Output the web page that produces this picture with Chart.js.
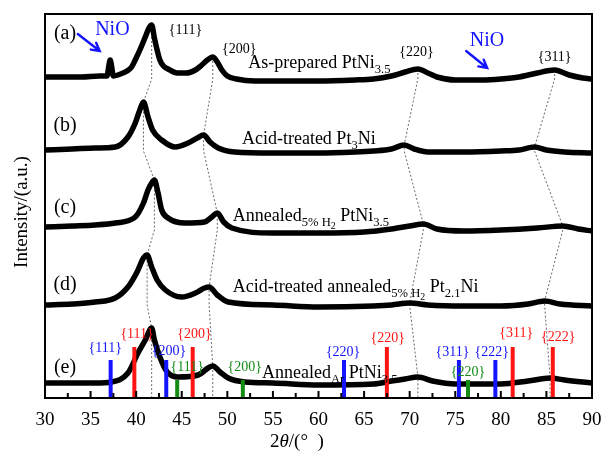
<!DOCTYPE html>
<html>
<head>
<meta charset="utf-8">
<script src="https://cdn.jsdelivr.net/npm/chart.js@4.4.1/dist/chart.umd.min.js"></script>
<style>
  html, body { margin: 0; padding: 0; background: #fff; }
</style>
</head>
<body>
<canvas id="xrd" width="606" height="452"></canvas>
<script>
// XRD patterns, stacked with a vertical offset: [2θ (deg), intensity (a.u.)]
const patternA = [[30,321],[32,321],[34,321],[36,322],[36.8,322],[37.0,332],[37.15,338],[37.3,332],[37.5,322],
  [38,323],[39,327],[39.5,331],[40,340],[40.5,350],[41.0,361],[41.4,370],[41.7,373],[42.0,360],[42.3,348],
  [42.6,338],[43.0,332],[43.5,329],[44.5,325],[45.5,325],[46.5,328],[47.2,333],[47.8,338],[48.4,341],
  [48.9,336],[49.4,328],[50.0,322],[51,319],[53,317],[56,317],[60,317],[64,318],[66,319],[68,322],
  [69.5,326],[70.9,329],[72,325],[73,321],[75,318],[78,318],[80,319],[82,321],[84,325],[85.9,328],
  [87.5,323],[89,320],[90,319]];
const patternB = [[30,248],[33,249],[35.5,250],[37.7,251],[39.1,261],[39.9,275],[40.4,288],[40.8,296],
  [41.3,281],[41.8,268],[42.8,258],[44.3,251],[45.7,255],[46.7,260],[47.4,263],[48.1,256],[49.0,250],
  [50.8,246],[55,245],[60,245],[64,246],[66,247],[68,249],[69.4,253],[70.5,249],[72,246],[76,246],
  [80,247],[82,248],[83.7,251],[85,248],[87,246],[90,245]];
const patternC = [[30,171],[33,172],[35.5,173],[37.7,175],[39.9,181],[40.8,195],[41.3,208],[41.7,215],
  [42.0,218],[42.4,205],[42.8,188],[43.5,180],[45.4,175],[47.5,176],[48.3,181],[48.9,185],[49.6,176],
  [50.5,170],[55,165],[60,165],[65,166],[68,169],[70,172],[71.5,174],[73,169],[76,167],[80,168],
  [84,170],[86.8,172],[88.5,169],[90,167]];
const patternD = [[30,93],[33,94],[35.5,96],[37.7,100],[39.1,111],[40.1,126],[40.8,140],[41.2,143],
  [41.7,131],[42.3,118],[43.2,108],[45.0,101],[46.5,105],[47.5,110],[48.0,111],[48.9,103],[50.1,96],
  [55,93],[60,91],[66,92],[68,93],[70,95],[72,93],[76,92],[80,92],[83,94],[84.8,97],[86.5,94],[90,92]];
const patternE = [[30,15],[33,15],[35.5,15],[37.3,16],[39.1,25],[40.2,45],[41.0,58],[41.7,70],[42.0,58],
  [42.6,41],[43.4,26],[44.6,21],[46.8,23],[47.9,30],[48.4,32],[49.2,26],[50.1,20],[51.9,16],[55,15],
  [60,13],[66,14],[68,17],[69.5,19],[70.9,21],[72.5,17],[75,14],[80,14],[83,17],[85.4,20],[87,18],[90,15]];

const patterns = [patternA, patternB, patternC, patternD, patternE];

// Peak positions of each pattern (a)…(e), used for the dashed guide lines
const peak111 = [41.7, 40.8, 42.0, 41.2, 41.7];
const peak200 = [48.4, 47.4, 48.9, 48.0, 48.4];
const peak220 = [70.9, 69.4, 71.5, 70.0, 70.9];
const peak311 = [85.9, 83.7, 86.8, 84.8, 85.4];
// level where each guide meets the pattern's baseline
const guideFoot = [319, 247, 168, 93, 0];

// Standard reference lines
const niOLines = [37.2, 43.3, 62.8, 75.4, 79.4];
const niOHeight = 38;
const niOHkl = ['{111}', '{200}', '{220}', '{311}', '{222}'];
const ptLines = [39.8, 46.2, 67.5, 81.3, 85.7];
const ptHeight = 51;
const ptHkl = ['{111}', '{200}', '{220}', '{311}', '{222}'];
const niLines = [44.5, 51.7, 76.4];
const niHeight = 18;
const niHkl = ['{111}', '{200}', '{220}'];

const xTicks = [30, 35, 40, 45, 50, 55, 60, 65, 70, 75, 80, 85, 90];

const FONT = '"Liberation Serif", "Times New Roman", serif';
const BLUE = 'rgb(20,20,255)';
const RED = 'rgb(255,20,20)';
const GREEN = 'rgb(20,140,20)';

const toXY = pts => pts.map(([x, y]) => ({ x, y }));

function guidePath(pos) {
  const pts = [];
  pos.forEach((p, i) => {
    const top = patterns[i].find(q => q[0] === p)[1];
    pts.push({ x: p, y: top });
    pts.push({ x: p, y: guideFoot[i] });
  });
  return pts;
}

const datasets = [];

// reference sticks (drawn on top)
[[niOLines, niOHeight, BLUE], [ptLines, ptHeight, RED], [niLines, niHeight, GREEN]].forEach(([xs, h, col]) => {
  xs.forEach(v => datasets.push({
    type: 'line', data: [{ x: v, y: 0 }, { x: v, y: h }],
    borderColor: col, borderWidth: 4, borderCapStyle: 'butt', pointRadius: 0, order: 0
  }));
});

// diffraction patterns
patterns.forEach(p => datasets.push({
  type: 'line', data: toXY(p), borderColor: '#000', borderWidth: 5.5,
  pointRadius: 0, cubicInterpolationMode: 'monotone', borderJoinStyle: 'round', order: 1
}));

// dashed guides following the shift of each reflection
[peak111, peak200, peak220, peak311].forEach(pos => datasets.push({
  type: 'line', data: guidePath(pos), borderColor: '#444', borderWidth: 0.8,
  borderDash: [2, 2], pointRadius: 0, order: 3
}));

// text placed in data coordinates (2θ, intensity)
const sampleTags = [['(a)', 32.2, 364], ['(b)', 32.2, 272], ['(c)', 32.2, 190], ['(d)', 32.2, 113], ['(e)', 32.2, 30]];
const sampleNames = [
  { at: [52.3, 330], segs: [['As-prepared PtNi', 1, 0], ['3.5', 0.7, 5]] },
  { at: [51.6, 254], segs: [['Acid-treated Pt', 1, 0], ['3', 0.7, 5], ['Ni', 1, 0]] },
  { at: [50.6, 177], segs: [['Annealed', 1, 0], ['5% H', 0.7, 5], ['2', 0.55, 8], [' PtNi', 1, 0], ['3.5', 0.7, 5]] },
  { at: [50.6, 106], segs: [['Acid-treated annealed', 1, 0], ['5% H', 0.7, 5], ['2', 0.55, 8], [' Pt', 1, 0], ['2.1', 0.7, 5], ['Ni', 1, 0]] },
  { at: [53.8, 20], segs: [['Annealed', 1, 0], ['Ar', 0.7, 5], [' PtNi', 1, 0], ['3.5', 0.7, 5]] }
];
const patternHkl = [['{111}', 45.4, 368], ['{200}', 51.3, 349], ['{220}', 70.75, 346], ['{311}', 85.9, 341]];
const niOLabelAt = [[36.6, 50], [43.6, 47], [62.7, 46], [74.7, 46], [79.0, 46]];
const ptLabelAt = [[40.1, 64], [46.4, 64], [67.6, 60], [81.7, 65], [86.3, 61]];
const niLabelAt = [[45.6, 31], [51.9, 31], [76.4, 26]];
const niOMarks = [
  { text: [35.5, 368], from: [33.6, 364], to: [36.0, 347] },
  { text: [76.6, 357], from: [76.2, 347], to: [78.5, 330] }
];

function richText(ctx, segs, X, Y, size, color) {
  let cx = X;
  ctx.fillStyle = color;
  ctx.textAlign = 'left';
  ctx.textBaseline = 'alphabetic';
  for (const [t, s, dy] of segs) {
    ctx.font = `${size * s}px ${FONT}`;
    ctx.fillText(t, cx, Y + dy);
    cx += ctx.measureText(t).width;
  }
}

function arrow(ctx, x1, y1, x2, y2, color) {
  const ang = Math.atan2(y2 - y1, x2 - x1);
  const hl = 9;
  ctx.strokeStyle = color;
  ctx.lineWidth = 2.4;
  ctx.lineCap = 'round';
  ctx.beginPath();
  ctx.moveTo(x1, y1);
  ctx.lineTo(x2, y2);
  ctx.moveTo(x2 - hl * Math.cos(ang - 0.5), y2 - hl * Math.sin(ang - 0.5));
  ctx.lineTo(x2, y2);
  ctx.lineTo(x2 - hl * Math.cos(ang + 0.5), y2 - hl * Math.sin(ang + 0.5));
  ctx.stroke();
}

const decorations = {
  id: 'decorations',
  afterDraw(chart) {
    const { ctx, chartArea: a, scales: { x, y } } = chart;
    const px = v => x.getPixelForValue(v);
    const py = v => y.getPixelForValue(v);
    ctx.save();

    // frame
    ctx.strokeStyle = '#000';
    ctx.lineWidth = 2;
    ctx.strokeRect(a.left, a.top, a.right - a.left, a.bottom - a.top);

    // inward tick marks on the 2θ axis
    ctx.lineWidth = 2;
    for (let v = 30; v <= 90; v += 2.5) {
      const X = px(v);
      const len = v % 5 === 0 ? 7 : 5;
      ctx.beginPath();
      ctx.moveTo(X, a.bottom);
      ctx.lineTo(X, a.bottom - len);
      ctx.stroke();
    }

    // sample tags
    ctx.fillStyle = '#000';
    ctx.font = `20px ${FONT}`;
    ctx.textAlign = 'center';
    ctx.textBaseline = 'middle';
    sampleTags.forEach(([t, vx, vy]) => ctx.fillText(t, px(vx), py(vy)));

    // sample names
    sampleNames.forEach(n => richText(ctx, n.segs, px(n.at[0]), py(n.at[1]), 18, '#000'));

    // reflection indices
    ctx.font = `14px ${FONT}`;
    ctx.textAlign = 'center';
    ctx.textBaseline = 'middle';
    ctx.fillStyle = '#000';
    patternHkl.forEach(([t, vx, vy]) => ctx.fillText(t, px(vx), py(vy)));
    ctx.fillStyle = BLUE;
    niOHkl.forEach((t, i) => ctx.fillText(t, px(niOLabelAt[i][0]), py(niOLabelAt[i][1])));
    ctx.fillStyle = RED;
    ptHkl.forEach((t, i) => ctx.fillText(t, px(ptLabelAt[i][0]), py(ptLabelAt[i][1])));
    ctx.fillStyle = GREEN;
    niHkl.forEach((t, i) => ctx.fillText(t, px(niLabelAt[i][0]), py(niLabelAt[i][1])));

    // NiO markers
    niOMarks.forEach(m => {
      ctx.fillStyle = BLUE;
      ctx.font = `20px ${FONT}`;
      ctx.textAlign = 'left';
      ctx.textBaseline = 'middle';
      ctx.fillText('NiO', px(m.text[0]), py(m.text[1]));
      arrow(ctx, px(m.from[0]), py(m.from[1]), px(m.to[0]), py(m.to[1]), BLUE);
    });

    // axis titles
    ctx.fillStyle = '#000';
    ctx.textBaseline = 'middle';
    ctx.textAlign = 'left';
    let tx = 270;
    const ty = 442;
    ctx.font = `19px ${FONT}`;
    ctx.fillText('2', tx, ty); tx += ctx.measureText('2').width;
    ctx.font = `italic 19px ${FONT}`;
    ctx.fillText('θ', tx, ty); tx += ctx.measureText('θ').width;
    ctx.font = `19px ${FONT}`;
    ctx.fillText('/(°  )', tx, ty);

    ctx.translate(22, (a.top + a.bottom) / 2 + 6);
    ctx.rotate(-Math.PI / 2);
    ctx.textAlign = 'center';
    ctx.fillText('Intensity/(a.u.)', 0, 0);
    ctx.restore();
  }
};

new Chart(document.getElementById('xrd'), {
  type: 'line',
  data: { datasets },
  options: {
    responsive: false,
    animation: false,
    layout: { padding: { left: 45, right: 14, top: 14, bottom: 0 } },
    plugins: { legend: { display: false }, tooltip: { enabled: false } },
    scales: {
      x: {
        type: 'linear', min: 30, max: 90,
        afterBuildTicks: s => { s.ticks = xTicks.map(v => ({ value: v })); },
        afterFit: s => { s.height = 54; s.paddingLeft = 0; s.paddingRight = 0; },
        grid: { display: false, drawTicks: false },
        border: { display: false },
        ticks: { color: '#000', font: { family: FONT, size: 19 }, padding: 11, maxRotation: 0, autoSkip: false }
      },
      y: { type: 'linear', min: 0, max: 384, display: false }
    }
  },
  plugins: [decorations]
});
</script>
</body>
</html>
